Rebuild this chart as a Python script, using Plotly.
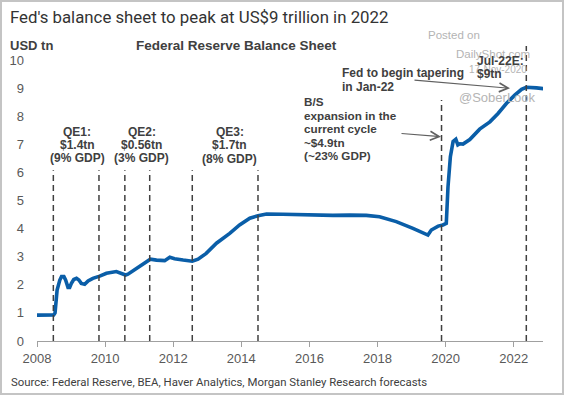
import plotly.graph_objects as go

# ---- data (decimal years, USD tn) ----
dates = [2008.0, 2008.25, 2008.49, 2008.53, 2008.59, 2008.67, 2008.72, 2008.79, 2008.84,
         2008.91, 2008.96, 2009.01, 2009.08, 2009.16, 2009.23, 2009.30, 2009.40, 2009.50,
         2009.64, 2009.84, 2010.04, 2010.33, 2010.60, 2010.67, 2010.82, 2011.02, 2011.21,
         2011.33, 2011.51, 2011.75, 2011.90, 2012.04, 2012.29, 2012.56, 2012.73, 2012.97,
         2013.27, 2013.66, 2013.95, 2014.25, 2014.49, 2014.74, 2015.22, 2015.71, 2016.21,
         2016.69, 2017.18, 2017.67, 2018.06, 2018.30, 2018.55, 2019.04, 2019.48, 2019.58,
         2019.78, 2019.92, 2020.02, 2020.07, 2020.14, 2020.22, 2020.30, 2020.36, 2020.42,
         2020.51, 2020.71, 2021.00, 2021.30, 2021.54, 2021.79, 2022.03, 2022.23, 2022.37,
         2022.50, 2022.67, 2022.87]
balance = [0.92, 0.92, 0.93, 1.00, 1.81, 2.17, 2.29, 2.29, 2.17,
           1.91, 1.91, 2.05, 2.19, 2.23, 2.17, 2.05, 2.02, 2.14,
           2.23, 2.31, 2.41, 2.47, 2.35, 2.38, 2.50, 2.64, 2.81,
           2.91, 2.88, 2.86, 2.98, 2.93, 2.88, 2.84, 2.91, 3.12,
           3.48, 3.83, 4.13, 4.37, 4.46, 4.52, 4.51, 4.49, 4.49,
           4.47, 4.48, 4.47, 4.42, 4.34, 4.25, 4.01, 3.77, 3.95,
           4.09, 4.13, 4.19, 5.49, 6.56, 7.10, 7.18, 6.98, 7.02,
           7.01, 7.17, 7.54, 7.80, 8.10, 8.46, 8.75, 8.96, 9.03,
           9.03, 9.01, 8.98]

# event markers: (date, top of dashed line in USD tn)
event_dates = [2008.48, 2009.82, 2010.58, 2011.31, 2012.56, 2014.49, 2019.88, 2022.37]
event_tops = [6.08, 6.08, 6.08, 6.08, 6.08, 6.08, 8.58, 10.5]

x_ticks = [2008, 2010, 2012, 2014, 2016, 2018, 2020, 2022]
y_ticks = list(range(0, 11))

# ---- layout geometry ----
WID, HEI = 564, 395
L, R, T, B = 37, 21, 46, 54
PW, PH = WID - L - R, HEI - T - B

def pp(x, y):
    return (x - L) / PW, (HEI - B - y) / PH

TXT = "#404040"
FONT = "Liberation Sans, Arial, sans-serif"
RFONT = "Roboto, Liberation Sans, sans-serif"

fig = go.Figure()
fig.add_trace(go.Scatter(x=dates, y=balance, mode="lines",
                         line=dict(color="#0a5ea8", width=3.6), hoverinfo="skip",
                         showlegend=False))

shapes = []
for d, top in zip(event_dates, event_tops):
    shapes.append(dict(type="line", xref="x", yref="y", x0=d, x1=d, y0=0, y1=top,
                       line=dict(color="#404040", width=1.5, dash="6px,4px"), layer="above"))
# outer border
x0, y0 = pp(1, HEI - 1)
x1, y1 = pp(WID - 1, 1)
shapes.append(dict(type="rect", xref="paper", yref="paper", x0=x0, y0=y0, x1=x1, y1=y1,
                   line=dict(color="#c4c4c4", width=2)))

ann = []

def txt(s, x, y, size=12, bold=True, color=TXT, xanchor="left", family=FONT):
    ax, ay = pp(x, y)
    ann.append(dict(text=("<b>%s</b>" % s) if bold else s, x=ax, y=ay, xref="paper",
                    yref="paper", showarrow=False, xanchor=xanchor, yanchor="middle",
                    borderpad=0, font=dict(size=size, color=color, family=family)))

txt("Fed's balance sheet to peak at US$9 trillion in 2022", 9, 17, size=16.8, bold=False,
    color="#333333", family=RFONT)
txt("USD tn", 9, 45, size=13)
txt("Federal Reserve Balance Sheet", 236, 45, size=13.5, xanchor="center")

# watermark
wm = "#b4b4b4"
txt("Posted on", 427, 35, size=11.5, bold=False, color=wm)
txt("DailyShot.com", 455, 54, size=11.5, bold=False, color=wm)
txt("17-Nov-2020", 468, 69, size=10, bold=False, color=wm)

for i, s in enumerate(["QE1:", "$1.4tn", "(9% GDP)"]):
    txt(s, 77, 131.7 + 13.3 * i, xanchor="center")
for i, s in enumerate(["QE2:", "$0.56tn", "(3% GDP)"]):
    txt(s, 141.7, 131.7 + 13.3 * i, xanchor="center")
for i, s in enumerate(["QE3:", "$1.7tn", "(8% GDP)"]):
    txt(s, 229.7, 131.7 + 13.6 * i, xanchor="center")
for i, s in enumerate(["B/S", "expansion in the", "current cycle", "~$4.9tn", "(~23% GDP)"]):
    txt(s, 302.5, 101.5 + 13.6 * i, size=11.7)
txt("Fed to begin tapering", 341, 73.3)
txt("in Jan-22", 341, 86.7)
txt("Jul-22E:", 476, 61, size=12)
txt("$9tn", 476, 73.5, size=12)

txt("@SoberLook", 458, 97.5, size=13, bold=False, color=wm)

txt("Source: Federal Reserve, BEA, Haver Analytics, Morgan Stanley Research forecasts",
    10, 382, size=11.4, bold=False, color="#404040", family=RFONT)

def arrow(tx, ty, hx, hy):
    ax, ay = pp(hx, hy)
    ann.append(dict(text="", x=ax, y=ay, xref="paper", yref="paper", showarrow=True,
                    ax=tx - hx, ay=ty - hy, axref="pixel", ayref="pixel",
                    arrowhead=5, arrowsize=1.6, arrowwidth=1.1, arrowcolor="#606060",
                    standoff=0, startstandoff=0))

arrow(400, 133.3, 441, 136.7)
arrow(413, 80, 510, 88.3)

fig.update_layout(
    width=WID, height=HEI,
    margin=dict(l=L, r=R, t=T, b=B, pad=0),
    paper_bgcolor="white", plot_bgcolor="white",
    font=dict(family=FONT, color="#595959"),
    shapes=shapes, annotations=ann, showlegend=False,
    xaxis=dict(range=[2008, 2022.86], tickmode="array", tickvals=x_ticks,
               ticktext=[str(v) for v in x_ticks], showgrid=False, zeroline=False,
               showline=True, linecolor="#a0a0a0", linewidth=1, ticks="outside",
               ticklen=5, tickcolor="#a0a0a0", automargin=False,
               tickfont=dict(size=13, color="#595959")),
    yaxis=dict(range=[0, 10.5], tickmode="array", tickvals=y_ticks, showgrid=False,
               zeroline=False, showline=False, ticks="", ticklabelstandoff=12,
               automargin=False, tickfont=dict(size=13, color="#595959")),
)

fig.write_html("out.html", config={"displayModeBar": False},
               post_script="document.body.style.margin='0';document.body.style.overflow='hidden';")
